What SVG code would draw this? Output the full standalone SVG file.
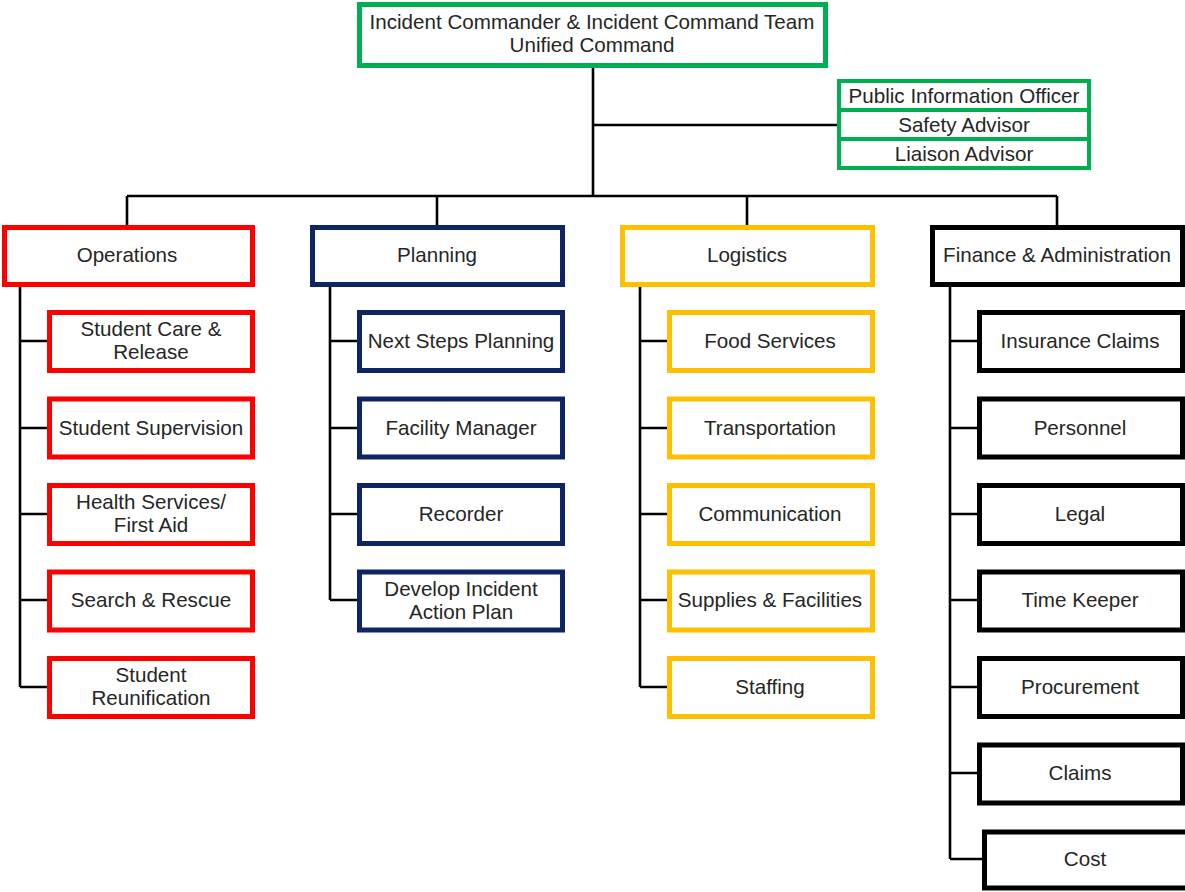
<svg xmlns="http://www.w3.org/2000/svg" width="1185" height="892" viewBox="0 0 1185 892">
<style>
text{font-family:"Liberation Sans",Arial,sans-serif;font-size:20.6px;fill:#262626;text-anchor:middle;dominant-baseline:central}
rect{fill:#fff;stroke-width:5}
.g{stroke:#00b050}.r{stroke:#ff0000}.b{stroke:#0f2465}.y{stroke:#ffc000}.k{stroke:#000}
.s{stroke-width:4}
#connectors path{fill:none;stroke:#000;stroke-width:2.6}
</style>
<rect width="1185" height="892" fill="#fff" stroke="none"/>
<g id="connectors">
<path d="M593 68V196M593 125H840M127 196H1057M127 196V226M437 196V226M747 196V226M1057 196V226"/>
<path d="M20 287V687M20 341H50M20 428H50M20 514H50M20 600H50M20 687H50"/>
<path d="M330 287V600M330 341H360M330 428H360M330 514H360M330 600H360"/>
<path d="M640 287V687M640 341H670M640 428H670M640 514H670M640 600H670M640 687H670"/>
<path d="M950 287V859M950 341H980M950 428H980M950 514H980M950 600H980M950 687H980M950 773H980M950 859H985"/>
</g>
<g id="ic"><rect class="g" x="359.5" y="4.5" width="466" height="61"/><text x="592" y="21">Incident Commander &amp; Incident Command Team</text><text x="592" y="44">Unified Command</text></g>
<g id="pio"><rect class="g s" x="839" y="81" width="250" height="29"/><text x="964" y="95">Public Information Officer</text></g>
<g id="safety"><rect class="g s" x="839" y="110" width="250" height="29"/><text x="964" y="124">Safety Advisor</text></g>
<g id="liaison"><rect class="g s" x="839" y="139" width="250" height="29"/><text x="964" y="153">Liaison Advisor</text></g>

<g id="operations"><rect class="r" x="4.5" y="227.5" width="248" height="57"/><text x="127" y="254">Operations</text></g>
<g id="planning"><rect class="b" x="312.5" y="227.5" width="250" height="57"/><text x="437" y="254">Planning</text></g>
<g id="logistics"><rect class="y" x="622.5" y="227.5" width="250" height="57"/><text x="747" y="254">Logistics</text></g>
<g id="finance"><rect class="k" x="932.5" y="227.5" width="250" height="57"/><text x="1057" y="254">Finance &amp; Administration</text></g>

<g id="op1"><rect class="r" x="49.5" y="312.5" width="203" height="58"/><text x="151" y="328">Student Care &amp;</text><text x="151" y="351">Release</text></g>
<g id="op2"><rect class="r" x="49.5" y="399" width="203" height="58"/><text x="151" y="427">Student Supervision</text></g>
<g id="op3"><rect class="r" x="49.5" y="485.5" width="203" height="58"/><text x="151" y="501">Health Services/</text><text x="151" y="524">First Aid</text></g>
<g id="op4"><rect class="r" x="49.5" y="572" width="203" height="58"/><text x="151" y="599">Search &amp; Rescue</text></g>
<g id="op5"><rect class="r" x="49.5" y="658.5" width="203" height="58"/><text x="151" y="674">Student</text><text x="151" y="697">Reunification</text></g>

<g id="pl1"><rect class="b" x="359.5" y="312.5" width="203" height="58"/><text x="461" y="340">Next Steps Planning</text></g>
<g id="pl2"><rect class="b" x="359.5" y="399" width="203" height="58"/><text x="461" y="427">Facility Manager</text></g>
<g id="pl3"><rect class="b" x="359.5" y="485.5" width="203" height="58"/><text x="461" y="513">Recorder</text></g>
<g id="pl4"><rect class="b" x="359.5" y="572" width="203" height="58"/><text x="461" y="588">Develop Incident</text><text x="461" y="611">Action Plan</text></g>

<g id="lg1"><rect class="y" x="669.5" y="312.5" width="203" height="58"/><text x="770" y="340">Food Services</text></g>
<g id="lg2"><rect class="y" x="669.5" y="399" width="203" height="58"/><text x="770" y="427">Transportation</text></g>
<g id="lg3"><rect class="y" x="669.5" y="485.5" width="203" height="58"/><text x="770" y="513">Communication</text></g>
<g id="lg4"><rect class="y" x="669.5" y="572" width="203" height="58"/><text x="770" y="599">Supplies &amp; Facilities</text></g>
<g id="lg5"><rect class="y" x="669.5" y="658.5" width="203" height="58"/><text x="770" y="686">Staffing</text></g>

<g id="fn1"><rect class="k" x="979.5" y="312.5" width="203" height="58"/><text x="1080" y="340">Insurance Claims</text></g>
<g id="fn2"><rect class="k" x="979.5" y="399" width="203" height="58"/><text x="1080" y="427">Personnel</text></g>
<g id="fn3"><rect class="k" x="979.5" y="485.5" width="203" height="58"/><text x="1080" y="513">Legal</text></g>
<g id="fn4"><rect class="k" x="979.5" y="572" width="203" height="58"/><text x="1080" y="599">Time Keeper</text></g>
<g id="fn5"><rect class="k" x="979.5" y="658.5" width="203" height="58"/><text x="1080" y="686">Procurement</text></g>
<g id="fn6"><rect class="k" x="979.5" y="745" width="203" height="58"/><text x="1080" y="772">Claims</text></g>
<g id="fn7"><rect class="k" x="984.5" y="832" width="203" height="56"/><text x="1085" y="858">Cost</text></g>
</svg>
